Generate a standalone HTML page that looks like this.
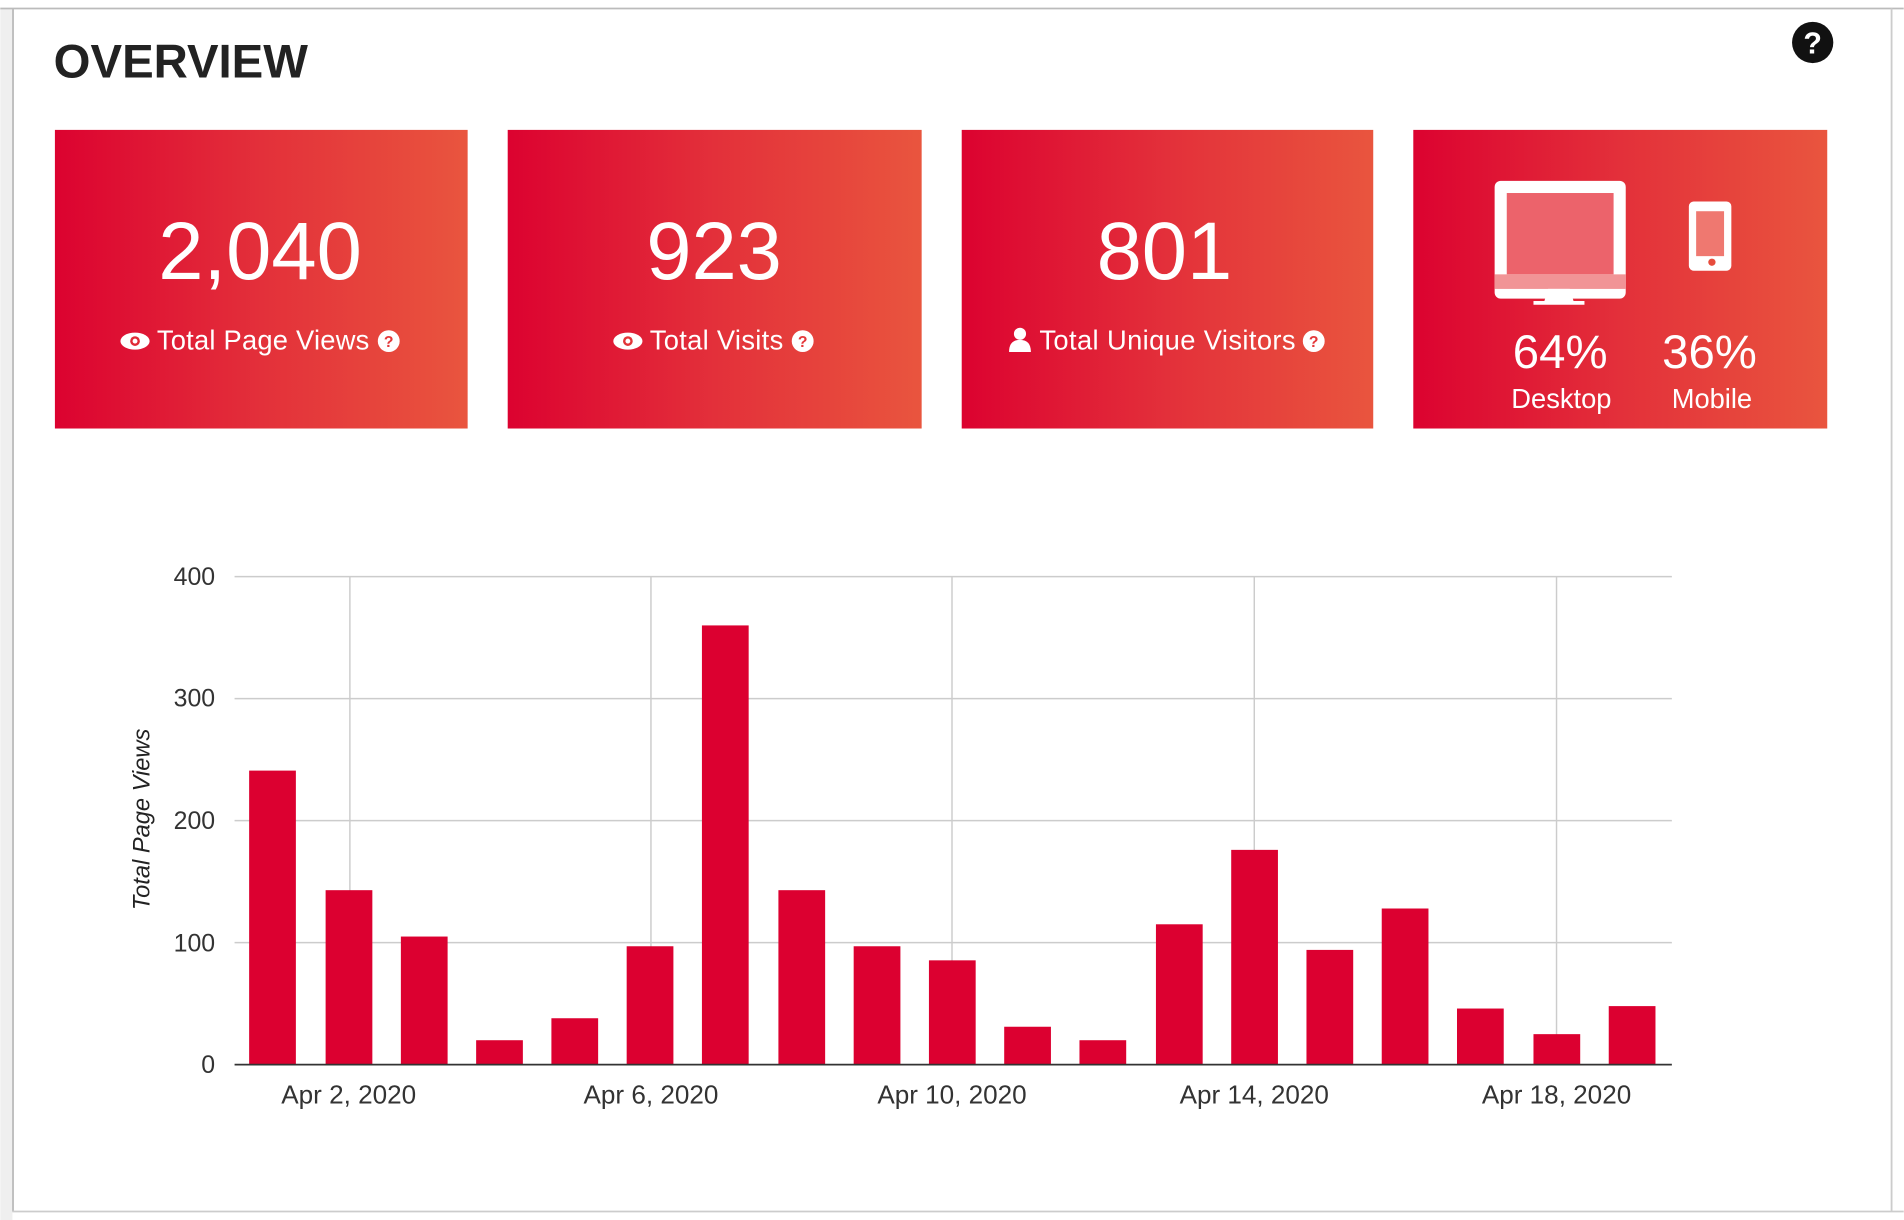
<!DOCTYPE html>
<html><head><meta charset="utf-8"><style>
html,body{margin:0;padding:0;background:#fff;width:1904px;height:1220px;overflow:hidden}
svg{display:block}
text{font-family:"Liberation Sans",Arial,sans-serif}
</style></head><body>
<svg width="1904" height="1220" viewBox="0 0 1568 1005" xmlns="http://www.w3.org/2000/svg">
<defs>
<linearGradient id="g" x1="0" y1="0" x2="1" y2="0">
<stop offset="0" stop-color="#dc0230"/><stop offset="0.5" stop-color="#e3303a"/><stop offset="1" stop-color="#e9553e"/>
</linearGradient>
</defs>
<rect x="0" y="0" width="1568" height="1005" fill="#fff"/>
<rect x="0" y="7" width="10" height="998" fill="#efefef"/>
<line x1="0" y1="7" x2="1568" y2="7" stroke="#bbb" stroke-width="1.5"/>
<line x1="10.5" y1="7" x2="10.5" y2="998" stroke="#bbb" stroke-width="1.5"/>
<line x1="1558" y1="7" x2="1558" y2="998" stroke="#ccc" stroke-width="1.5"/>
<line x1="10" y1="998" x2="1568" y2="998" stroke="#ccc" stroke-width="1.5"/>
<text x="44" y="64" font-size="39" font-weight="bold" fill="#222">OVERVIEW</text>
<circle cx="1493" cy="35" r="17" fill="#111"/>
<text x="1493" y="44" font-size="25" font-weight="bold" fill="#fff" text-anchor="middle">?</text>

<rect x="45" y="107" width="340" height="246" fill="url(#g)"/>
<rect x="418" y="107" width="341" height="246" fill="url(#g)"/>
<rect x="792" y="107" width="339" height="246" fill="url(#g)"/>
<rect x="1164" y="107" width="341" height="246" fill="url(#g)"/>

<g fill="#fff" text-anchor="middle">
<text x="214" y="230" font-size="67">2,040</text>
<text x="588" y="230" font-size="67">923</text>
<text x="959" y="230" font-size="67">801</text>
<text x="1285" y="303" font-size="39">64%</text>
<text x="1408" y="303" font-size="39">36%</text>
<text x="1286" y="336" font-size="22.5">Desktop</text>
<text x="1410" y="336" font-size="22.5">Mobile</text>
</g>
<g fill="#fff" font-size="22.5">
<text x="129" y="288" textLength="175">Total Page Views</text>
<text x="535" y="288" textLength="110">Total Visits</text>
<text x="856" y="288" textLength="211">Total Unique Visitors</text>
</g>
<!-- eye icons -->
<g fill="#fff">
<ellipse cx="111" cy="281" rx="12" ry="7"/><circle cx="111" cy="281" r="4" fill="#e02a36"/><circle cx="111" cy="281" r="2"/>
<ellipse cx="517" cy="281" rx="12" ry="7"/><circle cx="517" cy="281" r="4" fill="#e23438"/><circle cx="517" cy="281" r="2"/>
<circle cx="840" cy="275" r="5"/><path d="M831 290 q0-10 9-10 q9 0 9 10 z"/>
<circle cx="320" cy="281" r="9"/><circle cx="661" cy="281" r="9"/><circle cx="1082" cy="281" r="9"/>
</g>
<g fill="#e4383a" font-size="13" font-weight="bold" text-anchor="middle">
<text x="320" y="286">?</text><text x="661" y="286">?</text><text x="1082" y="286">?</text>
</g>
<!-- desktop icon -->
<rect x="1231" y="149" width="108" height="97" rx="5" fill="#fff"/>
<rect x="1241" y="159" width="88" height="67" fill="#ec636b"/>
<rect x="1231" y="226" width="108" height="12" fill="#f19496"/>
<path d="M1275 238 h18 l3 10 h9 v3 h-42 v-3 h9 z" fill="#fff"/>
<rect x="1391" y="166" width="35" height="57" rx="4" fill="#fff"/>
<rect x="1397" y="174" width="23" height="37" fill="#ef7870"/>
<circle cx="1410" cy="216" r="3" fill="#e74c3c"/>

<!-- chart grid -->
<g stroke="#ccc" stroke-width="1.2">
<line x1="193" y1="475" x2="1377" y2="475"/>
<line x1="193" y1="575.5" x2="1377" y2="575.5"/>
<line x1="193" y1="676" x2="1377" y2="676"/>
<line x1="193" y1="776.5" x2="1377" y2="776.5"/>
<line x1="288" y1="475" x2="288" y2="877"/>
<line x1="536" y1="475" x2="536" y2="877"/>
<line x1="784" y1="475" x2="784" y2="877"/>
<line x1="1033" y1="475" x2="1033" y2="877"/>
<line x1="1282" y1="475" x2="1282" y2="877"/>
</g>
<g fill="#dc0030">
<rect x="205" y="634.8" width="38.5" height="242.2"/>
<rect x="268" y="733.3" width="38.5" height="143.7"/>
<rect x="330" y="771.5" width="38.5" height="105.5"/>
<rect x="392" y="856.9" width="38.5" height="20.1"/>
<rect x="454" y="838.8" width="38.5" height="38.2"/>
<rect x="516" y="779.5" width="38.5" height="97.5"/>
<rect x="578" y="515.2" width="38.5" height="361.8"/>
<rect x="641" y="733.3" width="38.5" height="143.7"/>
<rect x="703" y="779.5" width="38.5" height="97.5"/>
<rect x="765" y="791.1" width="38.5" height="85.9"/>
<rect x="827" y="845.8" width="38.5" height="31.2"/>
<rect x="889" y="856.9" width="38.5" height="20.1"/>
<rect x="952" y="761.4" width="38.5" height="115.6"/>
<rect x="1014" y="700.1" width="38.5" height="176.9"/>
<rect x="1076" y="782.5" width="38.5" height="94.5"/>
<rect x="1138" y="748.4" width="38.5" height="128.6"/>
<rect x="1200" y="830.8" width="38.5" height="46.2"/>
<rect x="1263" y="851.9" width="38.5" height="25.1"/>
<rect x="1325" y="828.8" width="38.5" height="48.2"/>
</g>
<line x1="193" y1="877" x2="1377" y2="877" stroke="#333" stroke-width="1.5"/>
<g font-size="20.5" fill="#333" text-anchor="end">
<text x="177" y="482">400</text>
<text x="177" y="582">300</text>
<text x="177" y="683">200</text>
<text x="177" y="784">100</text>
<text x="177" y="884">0</text>
</g>
<g font-size="21.5" fill="#333" text-anchor="middle">
<text x="287" y="909">Apr 2, 2020</text>
<text x="536" y="909">Apr 6, 2020</text>
<text x="784" y="909">Apr 10, 2020</text>
<text x="1033" y="909">Apr 14, 2020</text>
<text x="1282" y="909">Apr 18, 2020</text>
</g>
<text x="0" y="0" font-size="19.5" font-style="italic" fill="#222" text-anchor="middle" transform="translate(123 675) rotate(-90)">Total Page Views</text>
</svg>
</body></html>
